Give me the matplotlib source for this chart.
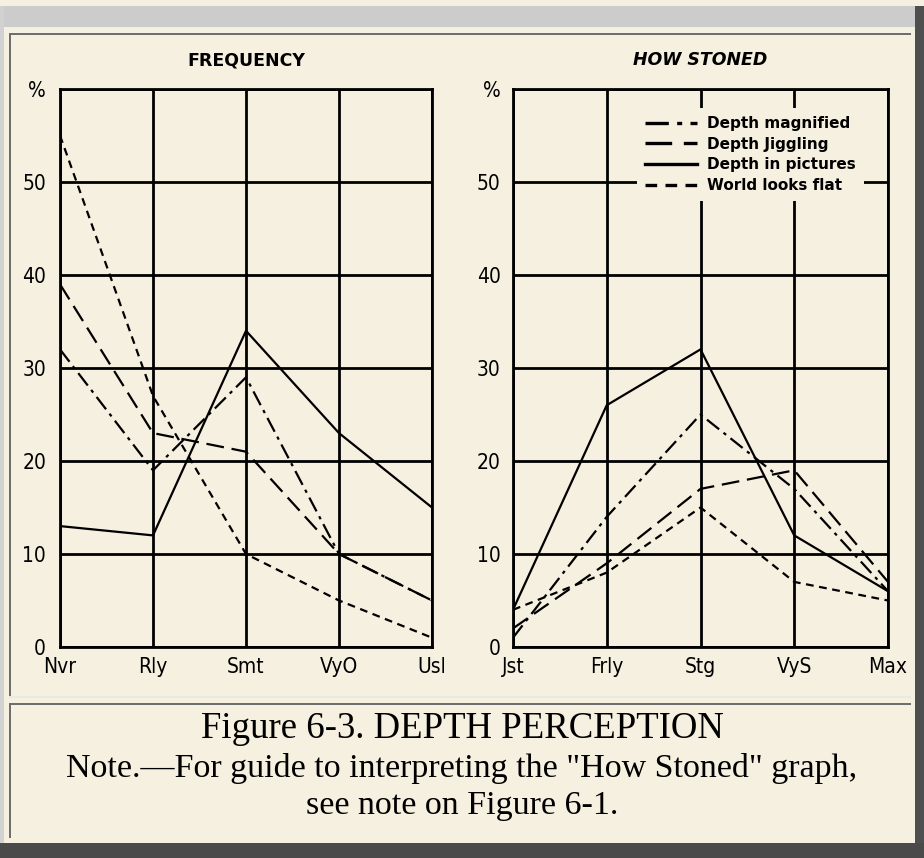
import matplotlib
matplotlib.use("Agg")
import matplotlib.pyplot as plt
from matplotlib.patches import Rectangle
from matplotlib.lines import Line2D

# categories
freq_cats = ["Nvr", "Rly", "Smt", "VyO", "Usl"]
stoned_cats = ["Jst", "Frly", "Stg", "VyS", "Max"]
y_ticks = [0, 10, 20, 30, 40, 50, 60]
y_labels = ["0", "10", "20", "30", "40", "50", "%"]

# values (percent)
freq_magnified = [32, 19, 29, 10, 5]
freq_jiggling = [39, 23, 21, 10, 5]
freq_pictures = [13, 12, 34, 23, 15]
freq_flat = [55, 27, 10, 5, 1]

stoned_magnified = [1, 14, 25, 17, 6]
stoned_jiggling = [2, 9, 17, 19, 7]
stoned_pictures = [4, 26, 32, 12, 6]
stoned_flat = [4, 8, 15, 7, 5]

series_names = ["Depth magnified", "Depth Jiggling", "Depth in pictures", "World looks flat"]
styles = [(0, (7, 2.5, 1.5, 2.5)), (0, (8, 3.5)), "-", (0, (3.5, 2.5))]

W, H = 924, 858
cream = "#f6f0e1"
fig = plt.figure(figsize=(W / 100, H / 100), dpi=100)
fig.patch.set_facecolor(cream)


def px_rect(x0, y0, x1, y1, color, z=0):
    fig.add_artist(Rectangle((x0 / W, 1 - y1 / H), (x1 - x0) / W, (y1 - y0) / H,
                             transform=fig.transFigure, facecolor=color,
                             edgecolor="none", zorder=z))


# page frame (table look)
px_rect(0, 6, 924, 27, "#cccccc")
px_rect(0, 6, 4, 858, "#d2d2d2")
px_rect(915, 6, 924, 858, "#4f4f4f")
px_rect(0, 843, 924, 858, "#4a4a4a")
# chart cell borders
px_rect(9, 33, 911, 35, "#6e6e6e")
px_rect(9, 33, 11, 697, "#6e6e6e")
px_rect(9, 696, 911, 698, "#e8e8e8")
# caption cell borders
px_rect(9, 703, 911, 705, "#6e6e6e")
px_rect(9, 703, 11, 838, "#6e6e6e")

tick_font = {"family": "DejaVu Sans", "stretch": "condensed", "size": 15}


def make_panel(rect, cats, data, title, italic, ypad):
    ax = fig.add_axes(rect)
    ax.set_facecolor("none")
    x = list(range(len(cats)))
    for vals, ls in zip(data, styles):
        ax.plot(x, vals, color="black", linestyle=ls, linewidth=1.6, zorder=3)
    ax.set_xlim(0, len(cats) - 1)
    ax.set_ylim(0, 60)
    ax.set_xticks(x)
    ax.set_xticklabels(cats, fontdict=tick_font)
    ax.set_yticks(y_ticks)
    ax.set_yticklabels(y_labels, fontdict=tick_font)
    ax.tick_params(length=0)
    ax.tick_params(axis="y", pad=ypad)
    ax.tick_params(axis="x", pad=7)
    ax.grid(True, color="black", linewidth=2.0, zorder=1)
    for s in ax.spines.values():
        s.set_linewidth(2.0)
    ax.set_title(title, fontsize=12.5, fontweight="bold",
                 fontstyle="italic" if italic else "normal", pad=17)
    return ax


ax1 = make_panel([60 / W, 1 - 647 / H, 372 / W, 558 / H], freq_cats,
                 [freq_magnified, freq_jiggling, freq_pictures, freq_flat],
                 "FREQUENCY", False, 10)
ax2 = make_panel([513 / W, 1 - 647 / H, 375 / W, 558 / H], stoned_cats,
                 [stoned_magnified, stoned_jiggling, stoned_pictures, stoned_flat],
                 "HOW STONED", True, 9)

handles = [Line2D([], [], color="black", linestyle=ls, linewidth=2.4) for ls in styles]
leg = ax2.legend(handles, series_names, loc="upper left",
                 bbox_to_anchor=(629 / W, 1 - 100 / H), bbox_transform=fig.transFigure,
                 prop={"weight": "bold", "size": 11}, handlelength=3.4,
                 handletextpad=0.65, labelspacing=0.37, borderpad=0.55,
                 frameon=True, fancybox=False, facecolor=cream, edgecolor="none",
                 framealpha=1)
leg.set_zorder(5)

# caption
fig.text(0.5, 1 - 729 / H, "Figure 6-3. DEPTH PERCEPTION", ha="center", va="center",
         family="Liberation Serif", fontsize=26.5)
fig.text(0.5, 1 - 768 / H, 'Note.\u2014For guide to interpreting the "How Stoned" graph,',
         ha="center", va="center", family="Liberation Serif", fontsize=24.5)
fig.text(0.5, 1 - 806 / H, "see note on Figure 6-1.", ha="center", va="center",
         family="Liberation Serif", fontsize=24.5)

fig.savefig("out.png", dpi=100, facecolor=cream)
